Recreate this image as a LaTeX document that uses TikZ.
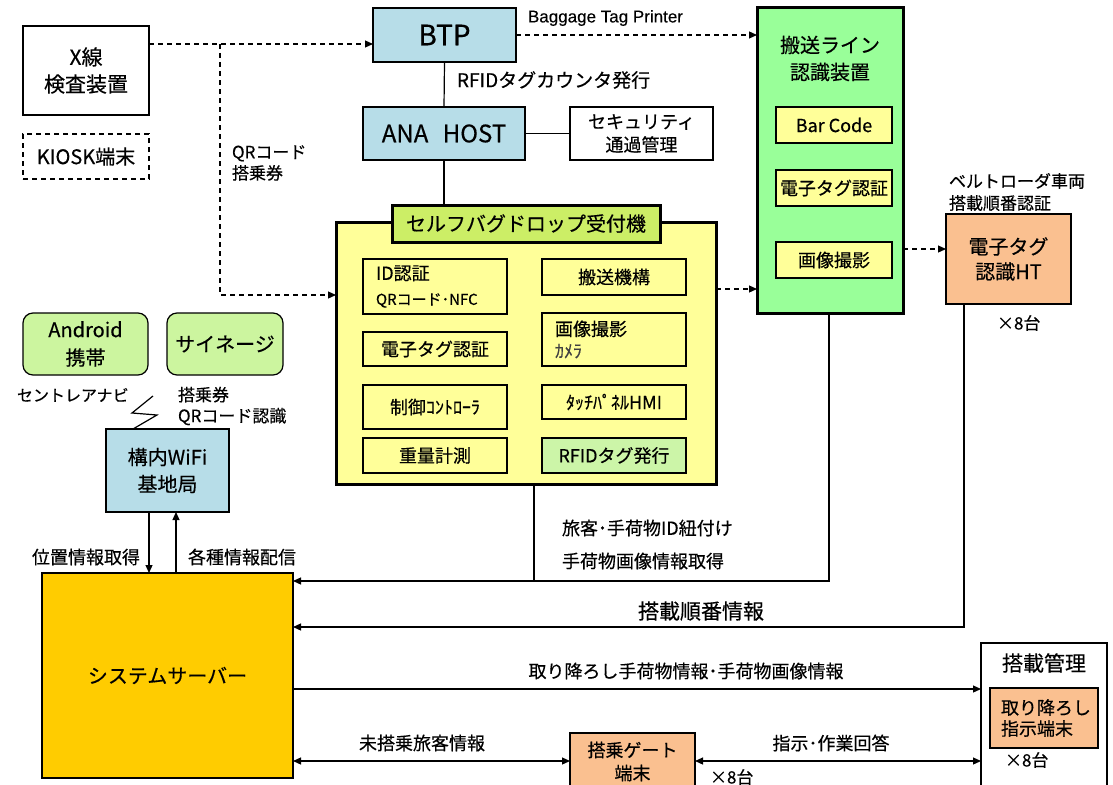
\documentclass[tikz,border=0pt]{standalone}
\usepackage{fontspec}
\setmainfont{Noto Sans CJK JP}[FakeBold=0.4]
\newfontfamily\latinfont{Liberation Sans}[FakeBold=0.3]
\usetikzlibrary{arrows.meta,calc}
\definecolor{cblue}{HTML}{B7DDE8}
\definecolor{cyellow}{HTML}{FFFF99}
\definecolor{clime}{HTML}{CCEE66}
\definecolor{clime2}{HTML}{CCF59F}
\definecolor{cgreen}{HTML}{CCF5A8}
\definecolor{cconv}{HTML}{99FF99}
\definecolor{cpeach}{HTML}{FAC090}
\definecolor{cserver}{HTML}{FFCC00}
\newcommand\fsz[2]{\fontsize{#1}{#2}\selectfont}
\begin{document}
\begin{tikzpicture}[x=1pt,y=-1pt,
  box/.style={draw, line width=1.2pt, inner sep=0pt, outer sep=0pt, align=center},
  thickbox/.style={box, line width=3pt},
  lbl/.style={inner sep=0pt, outer sep=0pt},
  conn/.style={line width=1.2pt},
  arr/.style={line width=1.2pt, -{Triangle[length=8pt,width=7pt]}},
  darr/.style={line width=1.2pt, {Triangle[length=8pt,width=7pt]}-{Triangle[length=8pt,width=7pt]}},
  dasharr/.style={arr, dash pattern=on 5pt off 4pt},
]
\useasboundingbox (0,0) rectangle (1113,784);
\clip (0,0) rectangle (1113,784);
\fill[white] (0,0) rectangle (1113,784);

% left top
\node[box, fill=white, minimum width=126pt, minimum height=89pt, font=\fsz{21}{27}] (xray) at (86,70.5) {X線\\検査装置};
\node[box, dash pattern=on 5pt off 4pt, minimum width=126pt, minimum height=45pt, font=\fsz{20}{22}] (kiosk) at (86,156.5) {KIOSK端末};

% BTP / host
\node[box, fill=cblue, minimum width=143pt, minimum height=54pt, font=\fsz{28}{32}] (btp) at (444.5,35) {BTP};
\node[box, fill=cblue, minimum width=162pt, minimum height=53pt, font=\fsz{24}{26}] (ana) at (444,133.5) {ANA\hspace{0.6em}HOST};
\node[box, fill=white, minimum width=143pt, minimum height=53pt, font=\fsz{18}{23}] (sec) at (641.5,133.5) {セキュリティ\\通過管理};

% self bag drop
\node[thickbox, fill=cyellow, minimum width=380pt, minimum height=262pt] (sbd) at (526,353) {};
\node[thickbox, fill=clime, minimum width=268pt, minimum height=37pt, font=\fsz{20}{24}] (title) at (526,223.5) {セルフバグドロップ受付機};
\node[box, fill=cyellow, minimum width=144pt, minimum height=55pt, text width=118pt, align=left, font=\fsz{18}{25}] (idauth) at (435,286.5) {ID認証\\{\fontsize{15}{25}\selectfont QRコード･NFC}};
\node[box, fill=cyellow, minimum width=144pt, minimum height=34pt, font=\fsz{18}{22}] (etag) at (435,349) {電子タグ認証};
\node[box, fill=cyellow, minimum width=144pt, minimum height=44pt, font=\fsz{18}{20}] (ctrl) at (435,407) {制御ｺﾝﾄﾛｰﾗ};
\node[box, fill=cyellow, minimum width=144pt, minimum height=35pt, font=\fsz{18}{22}] (weight) at (435,455.5) {重量計測};
\node[box, fill=cyellow, minimum width=144pt, minimum height=36pt, font=\fsz{18}{22}] (hansou) at (614,277) {搬送機構};
\node[box, fill=cyellow, minimum width=144pt, minimum height=53pt, text width=118pt, align=left, font=\fsz{18}{22}] (gazou) at (614,339.5) {画像撮影\\{\color{darkgray}\fontsize{18}{22}\selectfont ｶﾒﾗ}};
\node[box, fill=cyellow, minimum width=144pt, minimum height=34pt, font=\fsz{18}{20}] (touch) at (614,402) {ﾀｯﾁﾊﾟﾈﾙHMI};
\node[box, fill=cgreen, minimum width=144pt, minimum height=35pt, font=\fsz{18}{22}] (rfid) at (614,455.5) {RFIDタグ発行};

% conveyor
\node[thickbox, fill=cconv, minimum width=146pt, minimum height=305pt] (conv) at (830,160.5) {};
\node[lbl, align=center, font=\fsz{20}{27}] (convt) at (830,58.5) {搬送ライン\\認識装置};
\node[box, fill=cyellow, minimum width=116pt, minimum height=36pt, font=\fsz{18}{22}] (barcode) at (834,125) {Bar Code};
\node[box, fill=cyellow, minimum width=116pt, minimum height=36pt, font=\fsz{18}{22}] (cetag) at (834,188) {電子タグ認証};
\node[box, fill=cyellow, minimum width=116pt, minimum height=36pt, font=\fsz{18}{22}] (cgazou) at (834,260) {画像撮影};

% HT
\node[box, fill=cpeach, minimum width=125pt, minimum height=90pt, font=\fsz{20}{25}] (ht) at (1008.5,259) {電子タグ\\認識HT};
\node[lbl, anchor=west, align=left, font=\fsz{17}{22}] (htl) at (949,192) {ベルトローダ車両\\搭載順番認証};
\node[lbl, anchor=west, font=\fsz{17}{20}] (htn) at (997,323) {×8台};

% android etc
\node[box, rounded corners=10pt, fill=clime2, minimum width=125pt, minimum height=62pt, font=\fsz{20}{28}] (android) at (85.5,344) {Android\\携帯};
\node[box, rounded corners=10pt, fill=clime2, minimum width=116pt, minimum height=62pt, font=\fsz{20}{24}] (signage) at (225,344) {サイネージ};
\node[box, fill=cblue, minimum width=123pt, minimum height=83pt, font=\fsz{20}{27}] (wifi) at (167.5,470.5) {構内WiFi\\基地局};
\node[box, fill=cserver, minimum width=251pt, minimum height=205pt, font=\fsz{20}{24}] (server) at (167.5,675.5) {システムサーバー};

% bottom
\node[box, fill=cpeach, minimum width=125pt, minimum height=67pt] (gate) at (632.5,766.5) {};
\node[lbl, align=center, font=\fsz{18}{23}] (gatet) at (632.5,761.5) {搭乗ゲート\\端末};
\node[box, fill=white, minimum width=126pt, minimum height=157pt] (kanri) at (1044,721.5) {};
\node[lbl, font=\fsz{21}{24}] (kanrit) at (1044,663) {搭載管理};
\node[box, fill=cpeach, minimum width=108pt, minimum height=60pt, text width=86pt, align=left, font=\fsz{18}{21}] (toriorosi) at (1044,718) {取り降ろし\\指示端末};
\node[lbl, anchor=west, font=\fsz{17}{20}] (kanrin) at (1005,760) {×8台};
\node[lbl, anchor=west, font=\fsz{17}{20}] (gaten) at (710,777) {×8台};

% dashed arrows
\coordinate (qs) at (220,44);
\coordinate (qe) at (220,295);
\draw[dasharr] (xray.east |- qs) -- (btp.west |- qs);
\draw[dasharr] (qs) -- (qe) -- (sbd.west |- qe);
\node[lbl, anchor=west, align=left, font=\fsz{17}{21}] (qrl) at (232,163) {QRコード\\搭乗券};
\draw[dasharr] (btp.east) -- (conv.west |- btp.east);
\node[lbl, anchor=west, font=\latinfont\fsz{17}{20}] (btpl) at (528,18) {Baggage Tag Printer};
\coordinate (sc) at (716,289);
\draw[dasharr] (sbd.east |- sc) -- (conv.west |- sc);
\coordinate (hc) at (903,249);
\draw[dasharr] (conv.east |- hc) -- (ht.west |- hc);

% solid links
\draw[conn] (btp.south) -- (ana.north);
\node[lbl, anchor=west, font=\fsz{19}{22}] (rfidl) at (457,80) {RFIDタグカウンタ発行};
\draw[conn] (ana.east) -- (sec.west);
\draw[conn] (ana.south) -- (ana.south |- title.north);

% lightning
\coordinate (z1) at (153,396);
\coordinate (z2) at (132,413);
\coordinate (z3) at (157,415);
\coordinate (z4) at (133,0);
\draw[conn] (z1) -- (z2) -- (z3) -- (wifi.north -| z4);
\node[lbl, anchor=west, font=\fsz{16}{20}] (navi) at (17,395) {セントレアナビ};
\node[lbl, anchor=west, align=left, font=\fsz{17}{21}] (sigl) at (178,406) {搭乗券\\QRコード認識};

% wifi - server
\coordinate (w1) at (149,0);
\coordinate (w2) at (176,0);
\draw[arr] (w1 |- wifi.south) -- (w1 |- server.north);
\draw[arr] (w2 |- server.north) -- (w2 |- wifi.south);
\node[lbl, anchor=east, font=\fsz{18}{22}] (posl) at (140,557) {位置情報取得};
\node[lbl, anchor=west, font=\fsz{18}{22}] (distl) at (188,557) {各種情報配信};

% server links
\coordinate (j0) at (534,581);
\coordinate (j1) at (829,581);
\draw[conn] (j0 |- sbd.south) -- (j0);
\draw[arr] (j1 |- conv.south) -- (j1) -- (server.east |- j1);
\node[lbl, anchor=west, font=\fsz{18}{22}] (l1) at (562,528) {旅客･手荷物ID紐付け};
\node[lbl, anchor=west, font=\fsz{18}{22}] (l2) at (562,561) {手荷物画像情報取得};
\coordinate (j2) at (964,627);
\draw[arr] (j2 |- ht.south) -- (j2) -- (server.east |- j2);
\node[lbl, font=\fsz{21}{24}] (l3) at (701,611) {搭載順番情報};
\coordinate (j3) at (0,689);
\draw[arr] (server.east |- j3) -- (kanri.west |- j3);
\node[lbl, font=\fsz{18}{22}] (l4) at (686,671) {取り降ろし手荷物情報･手荷物画像情報};
\coordinate (j4) at (0,761);
\draw[darr] (server.east |- j4) -- (gate.west |- j4);
\node[lbl, font=\fsz{18}{22}] (l5) at (422,743) {未搭乗旅客情報};
\draw[darr] (gate.east |- j4) -- (kanri.west |- j4);
\node[lbl, font=\fsz{18}{22}] (l6) at (831,743) {指示･作業回答};
\end{tikzpicture}
\end{document}
